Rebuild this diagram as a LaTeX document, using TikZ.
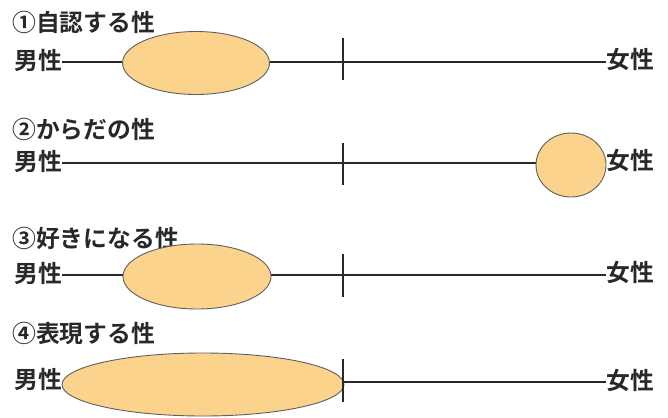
\documentclass[tikz,border=0pt]{standalone}
\usepackage{fontspec}
\setmainfont{Noto Sans CJK JP}[BoldFont={Noto Sans CJK JP Bold}]
\usetikzlibrary{shapes.geometric}
\definecolor{peach}{RGB}{252,211,140}
\definecolor{ink}{RGB}{40,40,40}
\definecolor{rim}{RGB}{95,95,95}
\begin{document}
\begin{tikzpicture}[x=1pt,y=-1pt,
  lbl/.style={inner sep=0pt,font=\fontsize{23.8}{24}\selectfont\bfseries,text=ink},
  axis/.style={draw=ink,line width=1.4pt},
  tickline/.style={draw=ink,line width=1.4pt},
  blob/.style={ellipse,draw=rim,line width=0.9pt,fill=peach,inner sep=0pt}]
\useasboundingbox (0,0) rectangle (668,417);
% Row 1
\node[lbl,anchor=west] (t1) at (12,22) {①自認する性};
\node[lbl,anchor=east] (m1) at (62,60) {男性};
\node[lbl,anchor=west] (f1) at (606,60) {女性};
\draw[axis] (m1.east |- 0,62) coordinate (a1) -- (f1.west |- 0,62) coordinate (b1);
\coordinate (k1t) at (343,38); \coordinate (k1b) at (343,80);
\draw[tickline] (k1t) -- (k1b);
\node[blob,minimum width=147pt,minimum height=63pt] (e1) at (196,63) {};
% Row 2
\node[lbl,anchor=west] (t2) at (12,129) {②からだの性};
\node[lbl,anchor=east] (m2) at (62,161) {男性};
\node[lbl,anchor=west] (f2) at (606,161) {女性};
\draw[axis] (m2.east |- 0,163) coordinate (a2) -- (f2.west |- 0,163) coordinate (b2);
\coordinate (k2t) at (343,143); \coordinate (k2b) at (343,185);
\draw[tickline] (k2t) -- (k2b);
\node[blob,minimum width=70pt,minimum height=64pt] (e2) at (571,165) {};
% Row 3
\node[lbl,anchor=west] (t3) at (12,238) {③好きになる性};
\node[lbl,anchor=east] (m3) at (62,273) {男性};
\node[lbl,anchor=west] (f3) at (606,273) {女性};
\draw[axis] (m3.east |- 0,275) coordinate (a3) -- (f3.west |- 0,275) coordinate (b3);
\coordinate (k3t) at (343,254); \coordinate (k3b) at (343,297);
\draw[tickline] (k3t) -- (k3b);
\node[blob,minimum width=148pt,minimum height=65pt] (e3) at (197,276.5) {};
% Row 4
\node[lbl,anchor=west] (t4) at (12,333) {④表現する性};
\node[lbl,anchor=east] (m4) at (62,379) {男性};
\node[lbl,anchor=west] (f4) at (606,380) {女性};
\draw[axis] (m4.east |- 0,382) coordinate (a4) -- (f4.west |- 0,382) coordinate (b4);
\node[blob,minimum width=282pt,minimum height=63pt] (e4) at (203,384.5) {};
\coordinate (k4t) at (343,359); \coordinate (k4b) at (343,402);
\draw[tickline] (k4t) -- (k4b);
\end{tikzpicture}
\end{document}
